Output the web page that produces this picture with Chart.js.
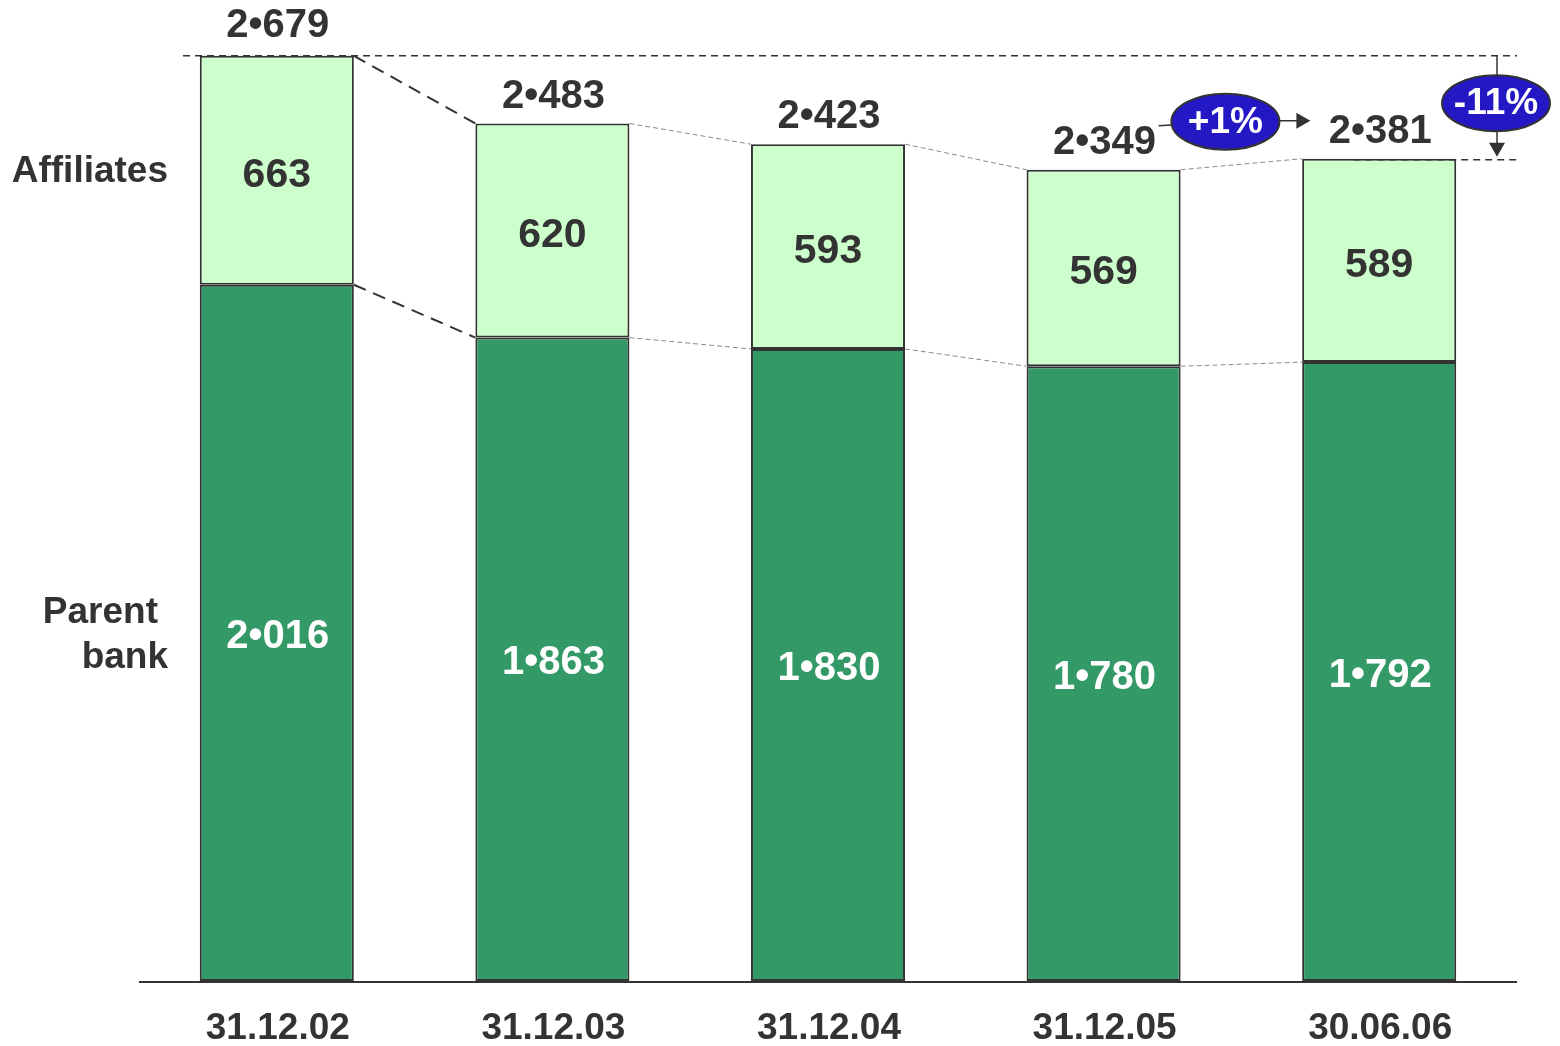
<!DOCTYPE html>
<html>
<head>
<meta charset="utf-8">
<script src="https://cdn.jsdelivr.net/npm/chart.js@4/dist/chart.umd.min.js"></script>
<style>
  html, body { margin: 0; padding: 0; background: #ffffff; }
  #c { display: block; }
</style>
</head>
<body>
<canvas id="c" width="1560" height="1046"></canvas>
<script>
const categories = ['31.12.02', '31.12.03', '31.12.04', '31.12.05', '30.06.06'];
const parentBank = [2016, 1863, 1830, 1780, 1792];
const affiliates = [663, 620, 593, 569, 589];
const totals = [2679, 2483, 2423, 2349, 2381];
const seriesLabels = ['Parent bank', 'Affiliates'];
const changeLabels = ['+1%', '-11%'];
const pageNumber = '9';

const FONT = '"Liberation Sans", Arial, sans-serif';
const TEXT = '#333333';

function fmt(v) {
  const s = String(v);
  return s.length > 3 ? s.slice(0, s.length - 3) + '\u2022' + s.slice(-3) : s;
}

function ellipse(ctx, cx, cy, rx, ry, label) {
  ctx.save();
  ctx.beginPath();
  ctx.ellipse(cx, cy, rx, ry, 0, 0, Math.PI * 2);
  ctx.fillStyle = '#2318C4';
  ctx.fill();
  ctx.lineWidth = 2;
  ctx.strokeStyle = '#333333';
  ctx.stroke();
  ctx.fillStyle = '#ffffff';
  ctx.font = 'bold 37px ' + FONT;
  ctx.textAlign = 'center';
  ctx.textBaseline = 'middle';
  ctx.fillText(label, cx, cy + 1);
  ctx.restore();
}

function arrowHead(ctx, x, y, dir) {
  ctx.save();
  ctx.fillStyle = '#333333';
  ctx.beginPath();
  if (dir === 'right') {
    ctx.moveTo(x, y); ctx.lineTo(x - 14, y - 8); ctx.lineTo(x - 14, y + 8);
  } else {
    ctx.moveTo(x, y); ctx.lineTo(x - 8, y - 14); ctx.lineTo(x + 8, y - 14);
  }
  ctx.closePath();
  ctx.fill();
  ctx.restore();
}

const overlay = {
  id: 'overlay',
  afterDatasetsDraw(chart) {
    const ctx = chart.ctx;
    const ca = chart.chartArea;
    const pb = chart.getDatasetMeta(0).data;
    const af = chart.getDatasetMeta(1).data;

    ctx.save();
    // baseline
    ctx.strokeStyle = '#333333';
    ctx.lineWidth = 2;
    ctx.beginPath();
    ctx.moveTo(ca.left, ca.bottom + 1);
    ctx.lineTo(ca.right, ca.bottom + 1);
    ctx.stroke();

    // connectors
    for (let j = 0; j < categories.length - 1; j++) {
      const a = af[j], b = af[j + 1], p = pb[j], q = pb[j + 1];
      if (j === 0) {
        ctx.strokeStyle = '#333333'; ctx.lineWidth = 2; ctx.setLineDash([13, 8]);
      } else {
        ctx.strokeStyle = '#8a8a8a'; ctx.lineWidth = 1; ctx.setLineDash([5, 3]);
      }
      ctx.beginPath();
      ctx.moveTo(a.x + a.width / 2, a.y);
      ctx.lineTo(b.x - b.width / 2, b.y);
      ctx.moveTo(p.x + p.width / 2, p.y);
      ctx.lineTo(q.x - q.width / 2, q.y);
      ctx.stroke();
    }

    // reference dashed lines
    const top0 = af[0].y, top4 = af[4].y;
    ctx.strokeStyle = '#333333'; ctx.lineWidth = 1.5; ctx.setLineDash([7, 5]);
    ctx.beginPath();
    ctx.moveTo(ca.left + 44, top0); ctx.lineTo(ca.right, top0);
    ctx.moveTo(af[4].x - 26, top4 + 1); ctx.lineTo(ca.right, top4 + 1);
    ctx.stroke();
    ctx.setLineDash([]);

    // -11% marker
    const mx = ca.right - 20;
    ctx.strokeStyle = '#333333'; ctx.lineWidth = 1.5;
    ctx.beginPath();
    ctx.moveTo(mx, top0); ctx.lineTo(mx, top4 - 8);
    ctx.stroke();
    arrowHead(ctx, mx, top4 - 2, 'down');
    ellipse(ctx, mx - 1, (top0 + top4) / 2 - 4, 54, 28, changeLabels[1]);

    // +1% marker
    const cx = (af[3].x + af[4].x) / 2 - 16, cy = top4 - 37;
    ctx.beginPath();
    ctx.moveTo(af[3].x + 55, cy + 4); ctx.lineTo(cx - 50, cy + 3);
    ctx.moveTo(cx + 54, cy - 1); ctx.lineTo(cx + 72, cy - 1);
    ctx.stroke();
    arrowHead(ctx, cx + 85, cy - 1, 'right');
    ellipse(ctx, cx, cy, 54, 28, changeLabels[0]);

    // value labels
    ctx.textAlign = 'center';
    ctx.textBaseline = 'middle';
    for (let j = 0; j < categories.length; j++) {
      const p = pb[j], a = af[j];
      ctx.fillStyle = '#ffffff';
      ctx.font = 'bold 40px ' + FONT;
      ctx.fillText(fmt(parentBank[j]), p.x + 1, (p.y + p.base) / 2 + 4);
      ctx.fillStyle = TEXT;
      ctx.font = 'bold 41px ' + FONT;
      ctx.fillText(fmt(affiliates[j]), a.x, (a.y + a.base) / 2 + 5);
      ctx.font = 'bold 40px ' + FONT;
      ctx.fillText(fmt(totals[j]), a.x + 1, a.y - 27 - (j === 0 ? 3 : 0));
      // category label
      ctx.font = 'bold 37px ' + FONT;
      ctx.fillText(categories[j], p.x + 1, ca.bottom + 48);
    }

    // series labels on the left
    ctx.textAlign = 'right';
    ctx.fillStyle = TEXT;
    ctx.font = 'bold 37px ' + FONT;
    ctx.fillText(seriesLabels[1], ca.left + 29, (af[0].y + af[0].base) / 2 + 2);
    const words = seriesLabels[0].split(' ');
    ctx.fillText(words[0], ca.left + 19, 613);
    ctx.fillText(words[1], ca.left + 29, 658);

    // page number (cut off at bottom)
    ctx.textAlign = 'center';
    ctx.font = '28px ' + FONT;
    ctx.fillText(pageNumber, ca.right, 1058);
    ctx.restore();
  }
};

new Chart(document.getElementById('c'), {
  type: 'bar',
  data: {
    labels: categories,
    datasets: [
      { label: seriesLabels[0], data: parentBank, backgroundColor: '#339966',
        borderColor: '#333333', borderWidth: 2, borderSkipped: false },
      { label: seriesLabels[1], data: affiliates, backgroundColor: '#CCFFCC',
        borderColor: '#333333', borderWidth: 2, borderSkipped: false }
    ]
  },
  options: {
    responsive: false,
    devicePixelRatio: 1,
    animation: false,
    layout: { padding: { top: 14, bottom: 65, left: 139, right: 43 } },
    datasets: { bar: { barPercentage: 0.559, categoryPercentage: 1 } },
    plugins: { legend: { display: false }, tooltip: { enabled: false } },
    scales: {
      x: { stacked: true, display: false },
      y: { stacked: true, display: false, min: 0, max: 2800 }
    }
  },
  plugins: [overlay]
});
</script>
</body>
</html>
